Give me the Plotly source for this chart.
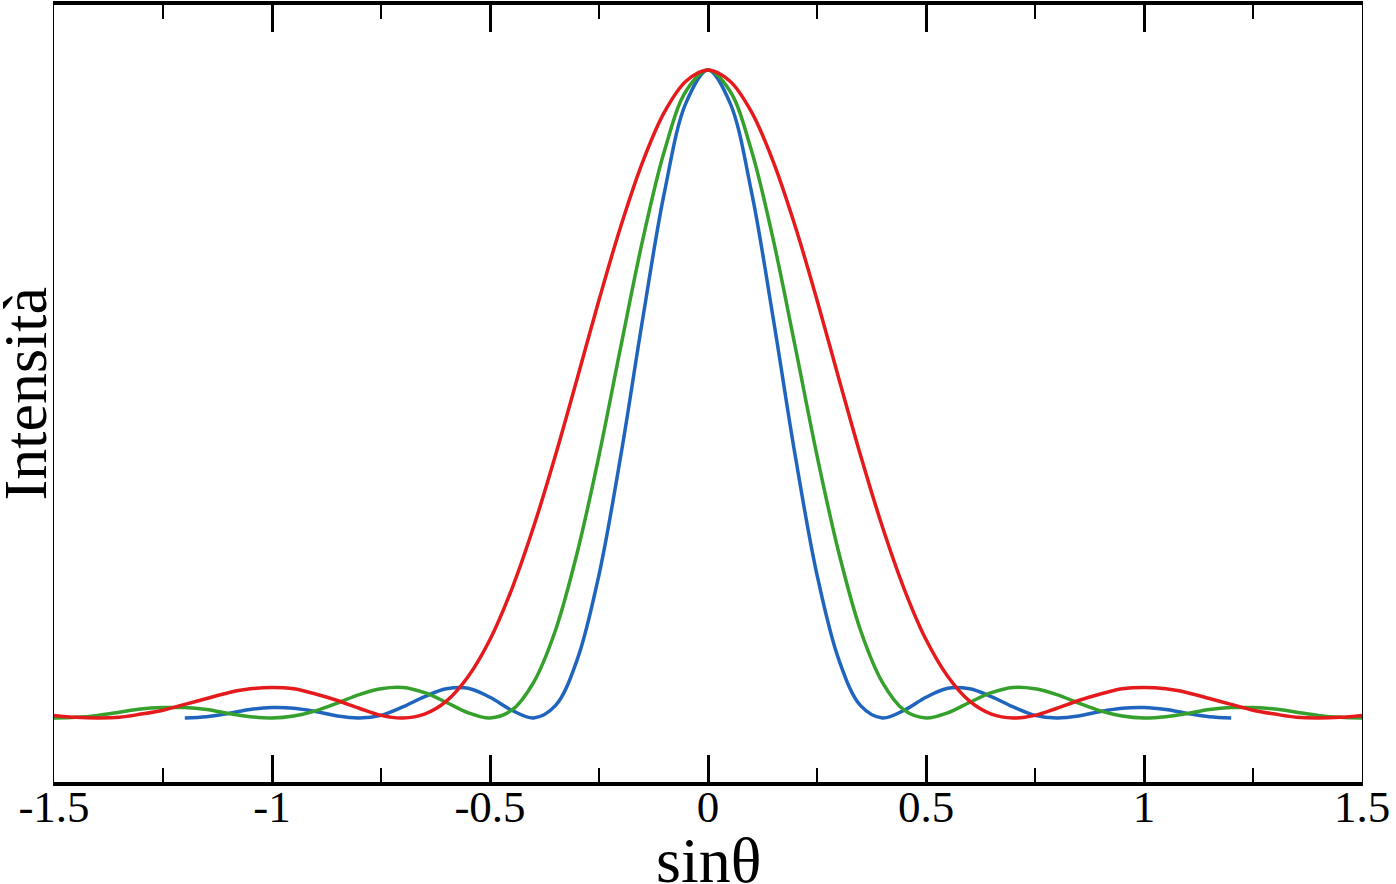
import plotly.graph_objects as go

# sin(theta) positions
x_blue = [-1.2, -1.15, -1.1, -1.05, -1.0, -0.95, -0.9, -0.85, -0.8, -0.75, -0.7, -0.65,
          -0.6, -0.55, -0.5, -0.45, -0.4, -0.35, -0.3, -0.25, -0.2, -0.15, -0.1, -0.05,
          0.0, 0.05, 0.1, 0.15, 0.2, 0.25, 0.3, 0.35, 0.4, 0.45, 0.5, 0.55,
          0.6, 0.65, 0.7, 0.75, 0.8, 0.85, 0.9, 0.95, 1.0, 1.05, 1.1, 1.15, 1.2]
x_wide = [-1.5, -1.45, -1.4, -1.35, -1.3, -1.25, -1.2, -1.15, -1.1, -1.05, -1.0,
          -0.95, -0.9, -0.85, -0.8, -0.75, -0.7, -0.65, -0.6, -0.55, -0.5,
          -0.45, -0.4, -0.35, -0.3, -0.25, -0.2, -0.15, -0.1, -0.05, 0.0,
          0.05, 0.1, 0.15, 0.2, 0.25, 0.3, 0.35, 0.4, 0.45, 0.5,
          0.55, 0.6, 0.65, 0.7, 0.75, 0.8, 0.85, 0.9, 0.95, 1.0,
          1.05, 1.1, 1.15, 1.2, 1.25, 1.3, 1.35, 1.4, 1.45, 1.5]

# intensities (normalised to the central peak)
i_blue = [0.000, 0.002, 0.007, 0.013, 0.016, 0.015, 0.010, 0.003, 0.000, 0.004, 0.017, 0.033,
          0.045, 0.046, 0.032, 0.012, 0.000, 0.019, 0.090, 0.221, 0.405, 0.615, 0.811, 0.950,
          1.000, 0.950, 0.811, 0.615, 0.405, 0.221, 0.090, 0.019, 0.000, 0.012, 0.032, 0.046,
          0.045, 0.033, 0.017, 0.004, 0.000, 0.003, 0.010, 0.015, 0.016, 0.013, 0.007, 0.002, 0.000]
i_green = [0.000, 0.001, 0.004, 0.009, 0.014, 0.016, 0.016, 0.013, 0.007, 0.002, 0.000,
           0.003, 0.011, 0.023, 0.036, 0.045, 0.047, 0.039, 0.024, 0.008, 0.000,
           0.012, 0.055, 0.135, 0.255, 0.405, 0.573, 0.737, 0.875, 0.968, 1.000,
           0.968, 0.875, 0.737, 0.573, 0.405, 0.255, 0.135, 0.055, 0.012, 0.000,
           0.008, 0.024, 0.039, 0.047, 0.045, 0.036, 0.023, 0.011, 0.003, 0.000,
           0.002, 0.007, 0.013, 0.016, 0.016, 0.014, 0.009, 0.004, 0.001, 0.000]
i_red = [0.004, 0.001, 0.000, 0.001, 0.006, 0.012, 0.021, 0.030, 0.039, 0.045, 0.047,
         0.045, 0.037, 0.027, 0.015, 0.004, 0.000, 0.006, 0.026, 0.064, 0.121,
         0.199, 0.295, 0.405, 0.524, 0.645, 0.759, 0.858, 0.935, 0.983, 1.000,
         0.983, 0.935, 0.858, 0.759, 0.645, 0.524, 0.405, 0.295, 0.199, 0.121,
         0.064, 0.026, 0.006, 0.000, 0.004, 0.015, 0.027, 0.037, 0.045, 0.047,
         0.045, 0.039, 0.030, 0.021, 0.012, 0.006, 0.001, 0.000, 0.001, 0.004]

FONT = "Liberation Serif"

fig = go.Figure()

for xs, ys, color in [
    (x_blue, i_blue, "#1f64bd"),
    (x_wide, i_green, "#35a02c"),
    (x_wide, i_red, "#e41a1c"),
]:
    fig.add_trace(
        go.Scatter(
            x=xs,
            y=ys,
            mode="lines",
            line=dict(color=color, width=3.5, shape="spline", smoothing=1.0),
            showlegend=False,
            hoverinfo="skip",
        )
    )

# axis titles as annotations so they sit exactly where the original has them
fig.add_annotation(
    text="sinθ", xref="paper", yref="paper", x=0.5, y=-0.1004,
    xanchor="center", yanchor="middle", showarrow=False,
    font=dict(family=FONT, size=64),
)
fig.add_annotation(
    text="Intensità", xref="paper", yref="paper", x=-0.0222, y=0.5,
    xanchor="center", yanchor="middle", textangle=-90, showarrow=False,
    font=dict(family=FONT, size=62),
)

fig.update_layout(
    width=1396,
    height=884,
    margin=dict(l=54, r=34, t=5, b=102),
    plot_bgcolor="white",
    paper_bgcolor="white",
    font=dict(family=FONT, color="black"),
    xaxis=dict(
        range=[-1.5, 1.5],
        tickmode="array",
        tickvals=[-1.5, -1, -0.5, 0, 0.5, 1, 1.5],
        ticktext=["-1.5", "-1", "-0.5", "0", "0.5", "1", "1.5"],
        ticks="inside",
        ticklen=27,
        tickwidth=3,
        tickcolor="black",
        minor=dict(dtick=0.25, tick0=0, ticks="inside", ticklen=14, tickwidth=2, tickcolor="black"),
        showline=True,
        linewidth=4,
        linecolor="black",
        mirror="ticks",
        showgrid=False,
        zeroline=False,
        automargin=False,
        ticklabelstandoff=-18,
        tickfont=dict(family=FONT, size=45),
    ),
    yaxis=dict(
        range=[-0.0988, 1.1003],
        showticklabels=False,
        ticks="",
        showline=True,
        linewidth=1,
        linecolor="black",
        mirror=True,
        showgrid=False,
        zeroline=False,
        automargin=False,
    ),
)

# drop the default page margin so the figure sits at the window's corner
fig.write_html(
    "out.html",
    config={"displayModeBar": False},
    post_script="document.body.style.margin='0';",
)
